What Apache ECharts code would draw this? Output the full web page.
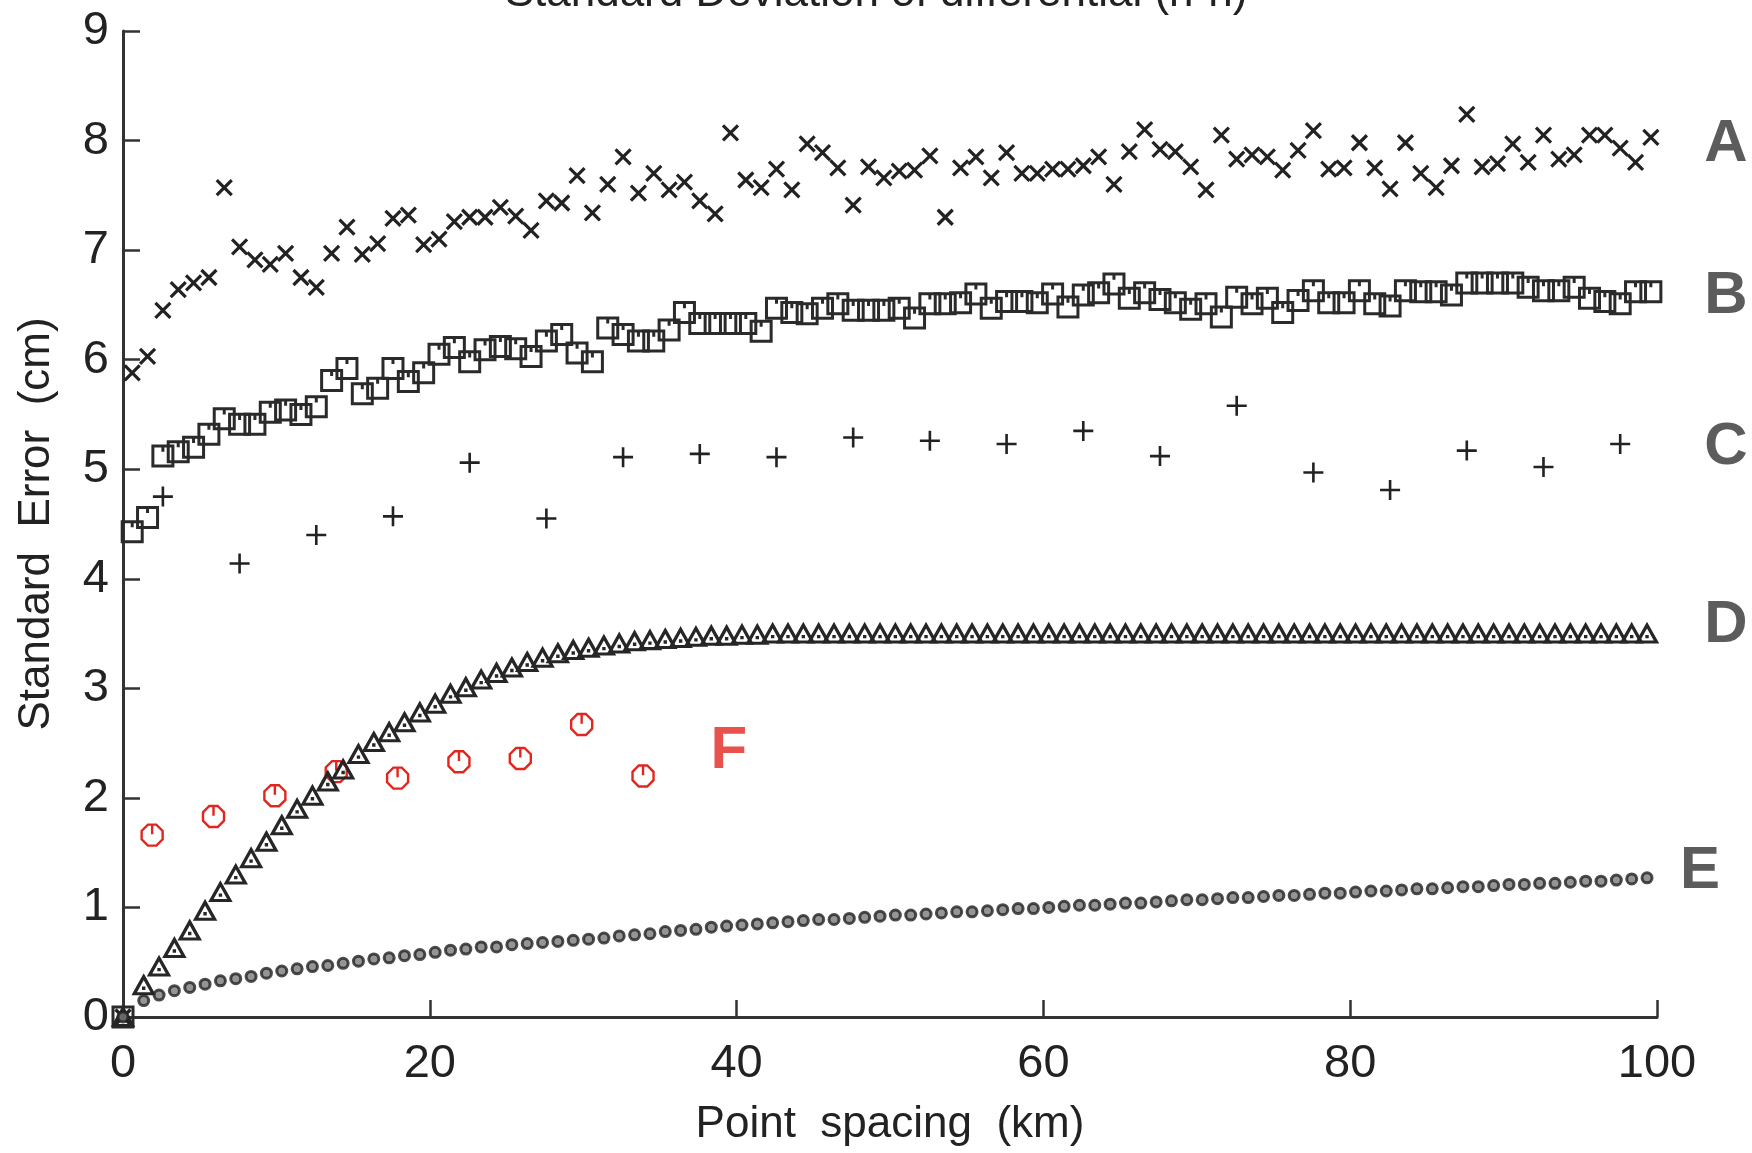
<!DOCTYPE html>
<html><head><meta charset="utf-8">
<script src="https://cdn.jsdelivr.net/npm/echarts@6/dist/echarts.min.js"></script>
<style>html,body{margin:0;padding:0;background:#fff}#c{width:1752px;height:1153px}</style>
</head><body><div id="c"></div>
<script>
// ---------- data ----------
const titleText = 'Standard Deviation of differential (h-h)';
const xName = 'Point  spacing  (km)';
const yName = 'Standard  Error  (cm)';

// sample grid (km) : first sample and step
const abStart = 0.6, deStart = 1.35, sampleStep = 1;

const seriesA = [
  5.88,6.03,6.45,6.64,6.70,6.75,7.57,7.03,6.91,6.87,
  6.97,6.75,6.66,6.97,7.21,6.96,7.06,7.29,7.32,7.05,
  7.10,7.26,7.30,7.30,7.39,7.31,7.18,7.45,7.43,7.68,
  7.34,7.60,7.85,7.52,7.70,7.55,7.62,7.45,7.33,8.07,
  7.64,7.57,7.74,7.55,7.97,7.89,7.75,7.41,7.76,7.66,
  7.72,7.73,7.86,7.30,7.75,7.85,7.66,7.89,7.70,7.70,
  7.74,7.74,7.77,7.85,7.60,7.90,8.10,7.92,7.90,7.76,
  7.55,8.05,7.83,7.87,7.85,7.73,7.91,8.09,7.74,7.75,
  7.98,7.75,7.56,7.98,7.70,7.57,7.77,8.24,7.76,7.79,
  7.97,7.80,8.05,7.83,7.87,8.05,8.05,7.93,7.80,8.03
];
const seriesB = [
  4.43,4.56,5.12,5.16,5.20,5.32,5.46,5.41,5.41,5.52,
  5.54,5.50,5.57,5.81,5.92,5.69,5.74,5.92,5.80,5.88,
  6.05,6.11,5.98,6.09,6.12,6.10,6.03,6.17,6.23,6.06,
  5.98,6.29,6.23,6.17,6.17,6.27,6.43,6.33,6.33,6.33,
  6.33,6.26,6.47,6.43,6.42,6.47,6.51,6.45,6.45,6.45,
  6.47,6.38,6.51,6.51,6.52,6.60,6.47,6.53,6.53,6.52,
  6.60,6.48,6.59,6.61,6.69,6.56,6.61,6.55,6.52,6.46,
  6.51,6.39,6.57,6.51,6.56,6.43,6.54,6.63,6.52,6.52,
  6.63,6.51,6.49,6.63,6.62,6.62,6.59,6.70,6.70,6.70,
  6.70,6.66,6.63,6.63,6.66,6.56,6.53,6.51,6.62,6.62
];
const cX = [2.6,7.6,12.6,17.6,22.6,27.6,32.6,37.6,42.6,47.6,52.6,57.6,62.6,67.6,72.6,77.6,82.6,87.6,92.6,97.6];
const seriesC = [4.75,4.14,4.40,4.57,5.06,4.55,5.11,5.14,5.11,5.29,5.26,5.23,5.35,5.12,5.58,4.97,4.81,5.17,5.02,5.23];
const seriesD = [
  0.29,0.46,0.63,0.79,0.97,1.14,1.30,1.45,1.60,1.75,
  1.90,2.02,2.15,2.26,2.40,2.51,2.60,2.69,2.78,2.86,
  2.95,3.01,3.08,3.14,3.19,3.24,3.28,3.32,3.35,3.37,
  3.39,3.41,3.43,3.44,3.45,3.46,3.47,3.48,3.48,3.49,
  3.49,3.50,3.50,3.50,3.50,3.50,3.50,3.50,3.50,3.50,
  3.50,3.50,3.50,3.50,3.50,3.50,3.50,3.50,3.50,3.50,
  3.50,3.50,3.50,3.50,3.50,3.50,3.50,3.50,3.50,3.50,
  3.50,3.50,3.50,3.50,3.50,3.50,3.50,3.50,3.50,3.50,
  3.50,3.50,3.50,3.50,3.50,3.50,3.50,3.50,3.50,3.50,
  3.50,3.50,3.50,3.50,3.50,3.50,3.50,3.50,3.50
];
const seriesE = [
  0.15,0.20,0.24,0.27,0.30,0.33,0.35,0.37,0.40,0.42,
  0.44,0.46,0.47,0.49,0.51,0.53,0.54,0.56,0.57,0.59,
  0.61,0.62,0.64,0.64,0.66,0.67,0.68,0.69,0.70,0.71,
  0.72,0.74,0.75,0.76,0.78,0.79,0.80,0.82,0.83,0.84,
  0.85,0.86,0.87,0.88,0.89,0.89,0.90,0.91,0.92,0.93,
  0.93,0.94,0.95,0.96,0.96,0.97,0.98,0.99,0.99,1.00,
  1.01,1.02,1.02,1.03,1.04,1.04,1.05,1.06,1.07,1.07,
  1.08,1.09,1.09,1.10,1.11,1.11,1.12,1.13,1.13,1.14,
  1.15,1.15,1.16,1.17,1.17,1.18,1.19,1.19,1.20,1.21,
  1.21,1.22,1.22,1.23,1.24,1.24,1.25,1.26,1.27
];
const fX = [1.9,5.9,9.9,13.9,17.9,21.9,25.9,29.9,33.9];
const seriesF = [1.66,1.83,2.02,2.24,2.18,2.33,2.36,2.67,2.20];

// curve name annotations (in data coordinates)
const curveNames = ['A','B','C','D','E','F'];
const curveNameX = [104.5,104.5,104.5,104.5,102.8,39.5];
const curveNameY = [7.96,6.58,5.20,3.57,1.33,2.42];

// ---------- build ----------
const originPt = [0, 0];
function gridPairs(start, vals){ return [originPt].concat(vals.map((v,i)=>[start + i*sampleStep, v])); }
function pairs(xs, vals){ return vals.map((v,i)=>[xs[i], v]); }

const INK = '#222222';
const RED = '#e2261f';
const SYM_X = 'path://M0,0L10,10M10,0L0,10';
const SYM_SQ = 'path://M0,0L10,0L10,10L0,10Z M5,0L5,2.8';
const SYM_TRI = 'path://M5,0L10,9L0,9Z M5,5.2L5,7';
const SYM_PLUS = 'path://M5,0L5,10M0,5L10,5';
const SYM_OCT = 'path://M3,0L7,0L10,3L10,7L7,10L3,10L0,7L0,3Z M5,0L5,4.6';

const FONT_NUM = '"Liberation Sans Narrow","Liberation Sans",sans-serif';
const FONT_TXT = '"Liberation Sans",sans-serif';

function markerSeries(name, data, symbol, size, color, width, z){
  return {
    name, type:'scatter', data, symbol, symbolSize:size, clip:false, z:z||2,
    itemStyle:{color:'rgba(0,0,0,0)', borderColor:color, borderWidth:width, opacity:1},
    emphasis:{disabled:true}, silent:true
  };
}

const chart = echarts.init(document.getElementById('c'), null, {renderer:'canvas'});
chart.setOption({
  animation:false,
  backgroundColor:'#ffffff',
  title:{text:titleText, left:'center', top:-33,
    textStyle:{fontSize:44, fontWeight:'normal', color:'#222', fontFamily:FONT_TXT}},
  grid:{left:123, right:95, top:31, bottom:136, outerBoundsMode:'none', containLabel:false},
  xAxis:{type:'value', min:0, max:100, interval:20,
    name:xName, nameLocation:'middle', nameGap:86,
    nameTextStyle:{fontSize:44, color:'#222', fontFamily:FONT_TXT},
    axisLine:{lineStyle:{color:'#333', width:3}},
    axisTick:{inside:true, length:17, lineStyle:{color:'#333', width:2.5}},
    splitLine:{show:false},
    axisLabel:{fontSize:47, color:'#222', margin:24, fontFamily:FONT_NUM}},
  yAxis:{type:'value', min:0, max:9, interval:1,
    name:yName, nameLocation:'middle', nameGap:64,
    nameTextStyle:{fontSize:44, color:'#222', fontFamily:FONT_TXT},
    axisLine:{lineStyle:{color:'#333', width:3}},
    axisTick:{inside:true, length:17, lineStyle:{color:'#333', width:2.5}},
    splitLine:{show:false},
    axisLabel:{fontSize:47, color:'#222', margin:14, fontFamily:FONT_NUM}},
  series:[
    markerSeries('A', gridPairs(abStart, seriesA), SYM_X, 15, INK, 3.2, 3),
    markerSeries('B', gridPairs(abStart, seriesB), SYM_SQ, 20, '#2a2a2a', 3, 2),
    markerSeries('C', pairs(cX, seriesC), SYM_PLUS, 20, INK, 2.6, 3),
    markerSeries('D', gridPairs(deStart, seriesD), SYM_TRI, [19,17], '#262626', 3.2, 3),
    {name:'E', type:'scatter', data:gridPairs(deStart, seriesE), symbol:'circle', symbolSize:10, clip:false,
      itemStyle:{color:'#7a7a7a', borderColor:'#222', borderWidth:3}, emphasis:{disabled:true}, silent:true, z:3},
    markerSeries('F', pairs(fX, seriesF), SYM_OCT, 21, RED, 2.4, 2),
    {name:'curve names', type:'scatter', clip:false, symbolSize:0, silent:true, z:5,
      data:curveNames.map((n,i)=>({value:[curveNameX[i], curveNameY[i]], name:n,
        label:{color: n==='F' ? RED : '#333333'}})),
      label:{show:true, position:'inside', formatter:p=>p.name,
        fontSize:60, fontWeight:'bold', fontFamily:FONT_TXT}}
  ]
});
</script>
</body></html>
